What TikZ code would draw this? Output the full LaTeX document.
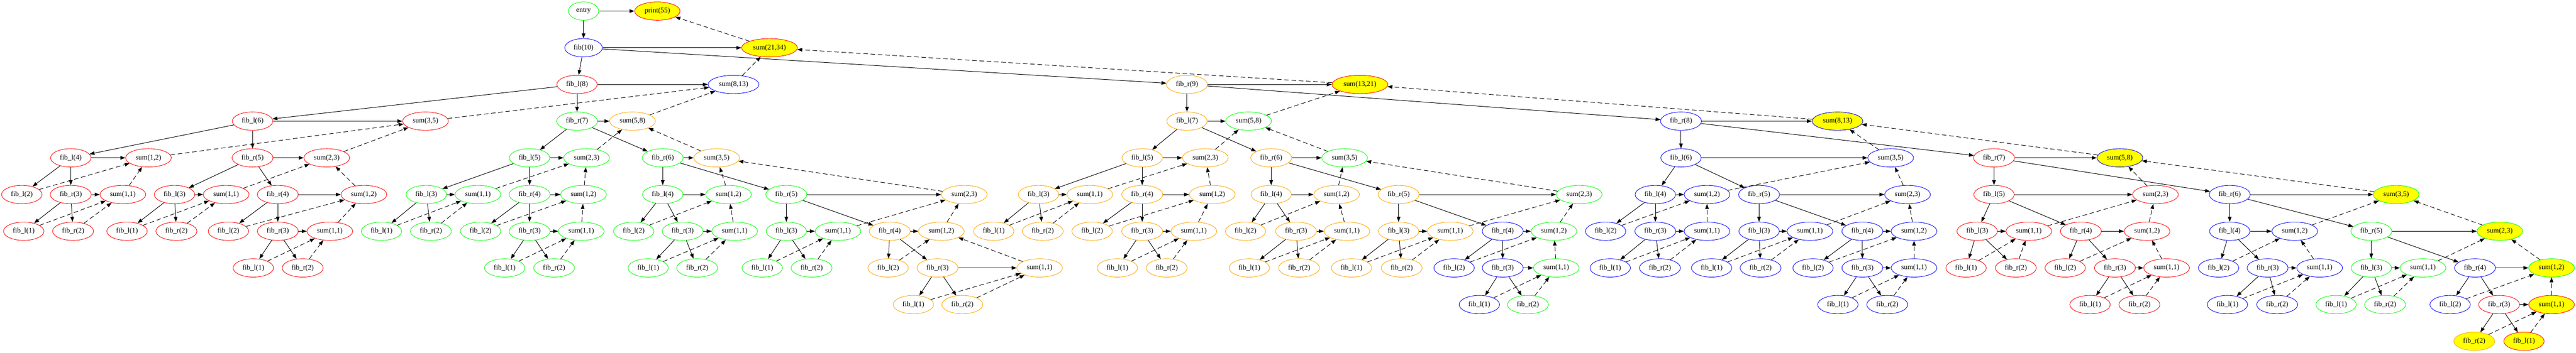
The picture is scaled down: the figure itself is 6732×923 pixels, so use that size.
\documentclass[tikz,border=0pt]{standalone}
\usepackage{fontspec}
\setmainfont{Liberation Serif}
\usetikzlibrary{shapes.geometric,arrows.meta}
\definecolor{gR}{HTML}{FF0000}
\definecolor{gG}{HTML}{00FF00}
\definecolor{gB}{HTML}{0000FF}
\definecolor{gO}{HTML}{FFA500}
\definecolor{gY}{HTML}{FFFF00}
\newcommand\mkF[5]{\node[nd,draw=#4] (#1) at (#2,#3) {#5};}
\newcommand\mkY[5]{\node[nd,draw=#4,fill=gY] (#1) at (#2,#3) {#5};}
\newcommand\mkE[3]{\draw[se] (#1) -- (#1L); \draw[se] (#1) -- (#1R); \draw[se] (#1) -- (#1S); \draw[de] (#2) -- (#1S); \draw[de] (#3) -- (#1S);}
\begin{document}
\begin{tikzpicture}[x=1pt,y=-1pt,
  nd/.style={ellipse, line width=1.2pt, inner xsep=8.8pt, inner ysep=0pt, minimum height=48pt, minimum width=72pt, font=\fontsize{18.67pt}{22pt}\selectfont},
  se/.style={line width=1.3pt, -{Triangle[length=13pt,width=9.5pt]}},
  de/.style={se, dash pattern=on 12pt off 7pt}]
\useasboundingbox (0,0) rectangle (6732,923);
% top
\mkF{entry}{1525}{29}{gG}{entry}
\mkY{print}{1718}{29}{gR}{print(55)}
\mkF{r}{1525}{125}{gB}{fib(10)}
\mkY{rS}{2011}{125}{gR}{sum(21,34)}
% left: fib_l(8)
\mkF{rL}{1508}{221}{gR}{fib\_l(8)}
\mkF{rLS}{1917}{221}{gB}{sum(8,13)}
\mkF{rLL}{660}{317}{gR}{fib\_l(6)}
\mkF{rLLS}{1112}{317}{gR}{sum(3,5)}
\mkF{rLLL}{185}{413}{gR}{fib\_l(4)}
\mkF{rLLLS}{388}{413}{gR}{sum(1,2)}
\mkF{rLLLL}{57}{509}{gR}{fib\_l(2)}
\mkF{rLLLR}{185}{509}{gR}{fib\_r(3)}
\mkF{rLLLRS}{321}{509}{gR}{sum(1,1)}
\mkF{rLLLRL}{62}{605}{gR}{fib\_l(1)}
\mkF{rLLLRR}{191}{605}{gR}{fib\_r(2)}
\mkF{rLLR}{660}{413}{gR}{fib\_r(5)}
\mkF{rLLRS}{854}{413}{gR}{sum(2,3)}
\mkF{rLLRL}{456}{509}{gR}{fib\_l(3)}
\mkF{rLLRLS}{591}{509}{gR}{sum(1,1)}
\mkF{rLLRLL}{332}{605}{gR}{fib\_l(1)}
\mkF{rLLRLR}{461}{605}{gR}{fib\_r(2)}
\mkF{rLLRR}{726}{509}{gR}{fib\_r(4)}
\mkF{rLLRRS}{951}{509}{gR}{sum(1,2)}
\mkF{rLLRRL}{597}{605}{gR}{fib\_l(2)}
\mkF{rLLRRR}{726}{605}{gR}{fib\_r(3)}
\mkF{rLLRRRS}{862}{605}{gR}{sum(1,1)}
\mkF{rLLRRRL}{662}{701}{gR}{fib\_l(1)}
\mkF{rLLRRRR}{791}{701}{gR}{fib\_r(2)}
\mkF{rLR}{1508}{317}{gG}{fib\_r(7)}
\mkF{rLRS}{1653}{317}{gO}{sum(5,8)}
\mkF{rLRL}{1384}{413}{gG}{fib\_l(5)}
\mkF{rLRLS}{1533}{413}{gG}{sum(2,3)}
\mkF{rLRLL}{1114}{509}{gG}{fib\_l(3)}
\mkF{rLRLLS}{1249}{509}{gG}{sum(1,1)}
\mkF{rLRLLL}{997}{605}{gG}{fib\_l(1)}
\mkF{rLRLLR}{1126}{605}{gG}{fib\_r(2)}
\mkF{rLRLR}{1384}{509}{gG}{fib\_r(4)}
\mkF{rLRLRS}{1525}{509}{gG}{sum(1,2)}
\mkF{rLRLRL}{1256}{605}{gG}{fib\_l(2)}
\mkF{rLRLRR}{1384}{605}{gG}{fib\_r(3)}
\mkF{rLRLRRS}{1519}{605}{gG}{sum(1,1)}
\mkF{rLRLRRL}{1319}{701}{gG}{fib\_l(1)}
\mkF{rLRLRRR}{1448}{701}{gG}{fib\_r(2)}
\mkF{rLRR}{1732}{413}{gG}{fib\_r(6)}
\mkF{rLRRS}{1873}{413}{gO}{sum(3,5)}
\mkF{rLRRL}{1732}{509}{gG}{fib\_l(4)}
\mkF{rLRRLS}{1904}{509}{gG}{sum(1,2)}
\mkF{rLRRLL}{1656}{605}{gG}{fib\_l(2)}
\mkF{rLRRLR}{1784}{605}{gG}{fib\_r(3)}
\mkF{rLRRLRS}{1920}{605}{gG}{sum(1,1)}
\mkF{rLRRLRL}{1694}{701}{gG}{fib\_l(1)}
\mkF{rLRRLRR}{1822}{701}{gG}{fib\_r(2)}
\mkF{rLRRR}{2055}{509}{gG}{fib\_r(5)}
\mkF{rLRRRS}{2520}{509}{gO}{sum(2,3)}
\mkF{rLRRRL}{2055}{605}{gG}{fib\_l(3)}
\mkF{rLRRRLS}{2190}{605}{gG}{sum(1,1)}
\mkF{rLRRRLL}{1992}{701}{gG}{fib\_l(1)}
\mkF{rLRRRLR}{2121}{701}{gG}{fib\_r(2)}
\mkF{rLRRRR}{2325}{605}{gO}{fib\_r(4)}
\mkF{rLRRRRS}{2460}{605}{gO}{sum(1,2)}
\mkF{rLRRRRL}{2321}{701}{gO}{fib\_l(2)}
\mkF{rLRRRRR}{2450}{701}{gO}{fib\_r(3)}
\mkF{rLRRRRRS}{2717}{701}{gO}{sum(1,1)}
\mkF{rLRRRRRL}{2387}{797}{gO}{fib\_l(1)}
\mkF{rLRRRRRR}{2515}{797}{gO}{fib\_r(2)}
% right: fib_r(9)
\mkF{rR}{3102}{221}{gO}{fib\_r(9)}
\mkY{rRS}{3554}{221}{gR}{sum(13,21)}
\mkF{rRL}{3102}{317}{gO}{fib\_l(7)}
\mkF{rRLS}{3263}{317}{gG}{sum(5,8)}
\mkF{rRLL}{2985}{413}{gO}{fib\_l(5)}
\mkF{rRLLS}{3150}{413}{gO}{sum(2,3)}
\mkF{rRLLL}{2714}{509}{gO}{fib\_l(3)}
\mkF{rRLLLS}{2848}{509}{gO}{sum(1,1)}
\mkF{rRLLLL}{2597}{605}{gO}{fib\_l(1)}
\mkF{rRLLLR}{2725}{605}{gO}{fib\_r(2)}
\mkF{rRLLR}{2985}{509}{gO}{fib\_r(4)}
\mkF{rRLLRS}{3168}{509}{gO}{sum(1,2)}
\mkF{rRLLRL}{2854}{605}{gO}{fib\_l(2)}
\mkF{rRLLRR}{2985}{605}{gO}{fib\_r(3)}
\mkF{rRLLRRS}{3120}{605}{gO}{sum(1,1)}
\mkF{rRLLRRL}{2920}{701}{gO}{fib\_l(1)}
\mkF{rRLLRRR}{3049}{701}{gO}{fib\_r(2)}
\mkF{rRLR}{3322}{413}{gO}{fib\_r(6)}
\mkF{rRLRS}{3514}{413}{gG}{sum(3,5)}
\mkF{rRLRL}{3322}{509}{gO}{fib\_l(4)}
\mkF{rRLRLS}{3493}{509}{gO}{sum(1,2)}
\mkF{rRLRLL}{3255}{605}{gO}{fib\_l(2)}
\mkF{rRLRLR}{3387}{605}{gO}{fib\_r(3)}
\mkF{rRLRLRS}{3520}{605}{gO}{sum(1,1)}
\mkF{rRLRLRL}{3265}{701}{gO}{fib\_l(1)}
\mkF{rRLRLRR}{3395}{701}{gO}{fib\_r(2)}
\mkF{rRLRR}{3655}{509}{gO}{fib\_r(5)}
\mkF{rRLRRS}{4127}{509}{gG}{sum(2,3)}
\mkF{rRLRRL}{3655}{605}{gO}{fib\_l(3)}
\mkF{rRLRRLS}{3790}{605}{gO}{sum(1,1)}
\mkF{rRLRRLL}{3532}{701}{gO}{fib\_l(1)}
\mkF{rRLRRLR}{3663}{701}{gO}{fib\_r(2)}
\mkF{rRLRRR}{3927}{605}{gB}{fib\_r(4)}
\mkF{rRLRRRS}{4061}{605}{gG}{sum(1,2)}
\mkF{rRLRRRL}{3800}{701}{gB}{fib\_l(2)}
\mkF{rRLRRRR}{3927}{701}{gB}{fib\_r(3)}
\mkF{rRLRRRRS}{4067}{701}{gG}{sum(1,1)}
\mkF{rRLRRRRL}{3866}{797}{gB}{fib\_l(1)}
\mkF{rRLRRRRR}{3993}{797}{gG}{fib\_r(2)}
\mkF{rRR}{4393}{317}{gB}{fib\_r(8)}
\mkY{rRRS}{4802}{317}{gB}{sum(8,13)}
\mkF{rRRL}{4393}{413}{gB}{fib\_l(6)}
\mkF{rRRLS}{4941}{413}{gB}{sum(3,5)}
\mkF{rRRLL}{4326}{509}{gB}{fib\_l(4)}
\mkF{rRRLLS}{4461}{509}{gB}{sum(1,2)}
\mkF{rRRLLL}{4196}{605}{gB}{fib\_l(2)}
\mkF{rRRLLR}{4326}{605}{gB}{fib\_r(3)}
\mkF{rRRLLRS}{4461}{605}{gB}{sum(1,1)}
\mkF{rRRLLRL}{4208}{701}{gB}{fib\_l(1)}
\mkF{rRRLLRR}{4338}{701}{gB}{fib\_r(2)}
\mkF{rRRLR}{4597}{509}{gB}{fib\_r(5)}
\mkF{rRRLRS}{4985}{509}{gB}{sum(2,3)}
\mkF{rRRLRL}{4597}{605}{gB}{fib\_l(3)}
\mkF{rRRLRLS}{4730}{605}{gB}{sum(1,1)}
\mkF{rRRLRLL}{4473}{701}{gB}{fib\_l(1)}
\mkF{rRRLRLR}{4601}{701}{gB}{fib\_r(2)}
\mkF{rRRLRR}{4867}{605}{gB}{fib\_r(4)}
\mkF{rRRLRRS}{5002}{605}{gB}{sum(1,2)}
\mkF{rRRLRRL}{4738}{701}{gB}{fib\_l(2)}
\mkF{rRRLRRR}{4867}{701}{gB}{fib\_r(3)}
\mkF{rRRLRRRS}{5002}{701}{gB}{sum(1,1)}
\mkF{rRRLRRRL}{4803}{797}{gB}{fib\_l(1)}
\mkF{rRRLRRRR}{4932}{797}{gB}{fib\_r(2)}
\mkF{rRRR}{5211}{413}{gR}{fib\_r(7)}
\mkY{rRRRS}{5540}{413}{gB}{sum(5,8)}
\mkF{rRRRL}{5211}{509}{gR}{fib\_l(5)}
\mkF{rRRRLS}{5633}{509}{gR}{sum(2,3)}
\mkF{rRRRLL}{5167}{605}{gR}{fib\_l(3)}
\mkF{rRRRLLS}{5302}{605}{gR}{sum(1,1)}
\mkF{rRRRLLL}{5138}{701}{gR}{fib\_l(1)}
\mkF{rRRRLLR}{5268}{701}{gR}{fib\_r(2)}
\mkF{rRRRLR}{5438}{605}{gR}{fib\_r(4)}
\mkF{rRRRLRS}{5611}{605}{gR}{sum(1,2)}
\mkF{rRRRLRL}{5397}{701}{gR}{fib\_l(2)}
\mkF{rRRRLRR}{5527}{701}{gR}{fib\_r(3)}
\mkF{rRRRLRRS}{5662}{701}{gR}{sum(1,1)}
\mkF{rRRRLRRL}{5462}{797}{gR}{fib\_l(1)}
\mkF{rRRRLRRR}{5591}{797}{gR}{fib\_r(2)}
\mkF{rRRRR}{5827}{509}{gB}{fib\_r(6)}
\mkY{rRRRRS}{6262}{509}{gG}{sum(3,5)}
\mkF{rRRRRL}{5827}{605}{gB}{fib\_l(4)}
\mkF{rRRRRLS}{5997}{605}{gB}{sum(1,2)}
\mkF{rRRRRLL}{5798}{701}{gB}{fib\_l(2)}
\mkF{rRRRRLR}{5926}{701}{gB}{fib\_r(3)}
\mkF{rRRRRLRS}{6062}{701}{gB}{sum(1,1)}
\mkF{rRRRRLRL}{5821}{797}{gB}{fib\_l(1)}
\mkF{rRRRRLRR}{5951}{797}{gB}{fib\_r(2)}
\mkF{rRRRRR}{6197}{605}{gG}{fib\_r(5)}
\mkY{rRRRRRS}{6533}{605}{gG}{sum(2,3)}
\mkF{rRRRRRL}{6197}{701}{gG}{fib\_l(3)}
\mkF{rRRRRRLS}{6332}{701}{gG}{sum(1,1)}
\mkF{rRRRRRLL}{6105}{797}{gG}{fib\_l(1)}
\mkF{rRRRRRLR}{6233}{797}{gG}{fib\_r(2)}
\mkF{rRRRRRR}{6468}{701}{gB}{fib\_r(4)}
\mkY{rRRRRRRS}{6668}{701}{gG}{sum(1,2)}
\mkF{rRRRRRRL}{6403}{797}{gB}{fib\_l(2)}
\mkF{rRRRRRRR}{6531}{797}{gR}{fib\_r(3)}
\mkY{rRRRRRRRS}{6668}{797}{gR}{sum(1,1)}
\mkY{rRRRRRRRR}{6466}{893}{gO}{fib\_r(2)}
\mkY{rRRRRRRRL}{6596}{893}{gR}{fib\_l(1)}
% edges
\draw[se] (entry) -- (print);
\draw[se] (entry) -- (r);
\draw[de] (rS) -- (print);
\mkE{r}{rLS}{rRS}
\mkE{rL}{rLLS}{rLRS}
\mkE{rLL}{rLLLS}{rLLRS}
\mkE{rLLL}{rLLLL}{rLLLRS}
\mkE{rLLLR}{rLLLRL}{rLLLRR}
\mkE{rLLR}{rLLRLS}{rLLRRS}
\mkE{rLLRL}{rLLRLL}{rLLRLR}
\mkE{rLLRR}{rLLRRL}{rLLRRRS}
\mkE{rLLRRR}{rLLRRRL}{rLLRRRR}
\mkE{rLR}{rLRLS}{rLRRS}
\mkE{rLRL}{rLRLLS}{rLRLRS}
\mkE{rLRLL}{rLRLLL}{rLRLLR}
\mkE{rLRLR}{rLRLRL}{rLRLRRS}
\mkE{rLRLRR}{rLRLRRL}{rLRLRRR}
\mkE{rLRR}{rLRRLS}{rLRRRS}
\mkE{rLRRL}{rLRRLL}{rLRRLRS}
\mkE{rLRRLR}{rLRRLRL}{rLRRLRR}
\mkE{rLRRR}{rLRRRLS}{rLRRRRS}
\mkE{rLRRRL}{rLRRRLL}{rLRRRLR}
\mkE{rLRRRR}{rLRRRRL}{rLRRRRRS}
\mkE{rLRRRRR}{rLRRRRRL}{rLRRRRRR}
\mkE{rR}{rRLS}{rRRS}
\mkE{rRL}{rRLLS}{rRLRS}
\mkE{rRLL}{rRLLLS}{rRLLRS}
\mkE{rRLLL}{rRLLLL}{rRLLLR}
\mkE{rRLLR}{rRLLRL}{rRLLRRS}
\mkE{rRLLRR}{rRLLRRL}{rRLLRRR}
\mkE{rRLR}{rRLRLS}{rRLRRS}
\mkE{rRLRL}{rRLRLL}{rRLRLRS}
\mkE{rRLRLR}{rRLRLRL}{rRLRLRR}
\mkE{rRLRR}{rRLRRLS}{rRLRRRS}
\mkE{rRLRRL}{rRLRRLL}{rRLRRLR}
\mkE{rRLRRR}{rRLRRRL}{rRLRRRRS}
\mkE{rRLRRRR}{rRLRRRRL}{rRLRRRRR}
\mkE{rRR}{rRRLS}{rRRRS}
\mkE{rRRL}{rRRLLS}{rRRLRS}
\mkE{rRRLL}{rRRLLL}{rRRLLRS}
\mkE{rRRLLR}{rRRLLRL}{rRRLLRR}
\mkE{rRRLR}{rRRLRLS}{rRRLRRS}
\mkE{rRRLRL}{rRRLRLL}{rRRLRLR}
\mkE{rRRLRR}{rRRLRRL}{rRRLRRRS}
\mkE{rRRLRRR}{rRRLRRRL}{rRRLRRRR}
\mkE{rRRR}{rRRRLS}{rRRRRS}
\mkE{rRRRL}{rRRRLLS}{rRRRLRS}
\mkE{rRRRLL}{rRRRLLL}{rRRRLLR}
\mkE{rRRRLR}{rRRRLRL}{rRRRLRRS}
\mkE{rRRRLRR}{rRRRLRRL}{rRRRLRRR}
\mkE{rRRRR}{rRRRRLS}{rRRRRRS}
\mkE{rRRRRL}{rRRRRLL}{rRRRRLRS}
\mkE{rRRRRLR}{rRRRRLRL}{rRRRRLRR}
\mkE{rRRRRR}{rRRRRRLS}{rRRRRRRS}
\mkE{rRRRRRL}{rRRRRRLL}{rRRRRRLR}
\mkE{rRRRRRR}{rRRRRRRL}{rRRRRRRRS}
\mkE{rRRRRRRR}{rRRRRRRRL}{rRRRRRRRR}
\end{tikzpicture}
\end{document}
